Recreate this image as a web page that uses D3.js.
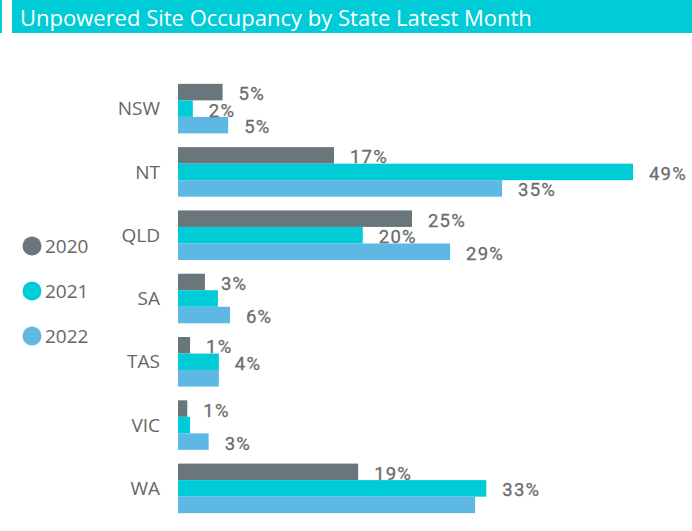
<!DOCTYPE html>
<html lang="en">
<head>
<meta charset="utf-8">
<style>
  body { margin: 0; background: #fff; }
  svg { display: block; }
</style>
</head>
<body>
<script src="https://d3js.org/d3.v7.min.js"></script>
<script>
    var states = ["NSW", "NT", "QLD", "SA", "TAS", "VIC", "WA"];
    var years = ["2020", "2021", "2022"];
    var occ2020 = [4.8, 16.8, 25.2, 2.9, 1.3, 1.0, 19.4];
    var occ2021 = [1.6, 49.0, 19.9, 4.3, 4.4, 1.3, 33.2];
    var occ2022 = [5.4, 34.9, 29.3, 5.6, 4.4, 3.3, 32.0];
    var colors = ["#69767c", "#00ccd7", "#5db8e3"];

    var width = 692,
        height = 531;

    var series = [occ2020, occ2021, occ2022];

    var svg = d3.select("body").append("svg")
        .attr("width", width)
        .attr("height", height);

    // title bar
    svg.append("rect")
        .attr("x", 0).attr("y", 0)
        .attr("width", 2).attr("height", 33)
        .attr("fill", "#00ccd7");
    svg.append("rect")
        .attr("x", 12).attr("y", 0)
        .attr("width", width - 12).attr("height", 33)
        .attr("fill", "#00ccd7");
    svg.append("text")
        .attr("x", 20).attr("y", 26)
        .attr("fill", "#fff")
        .style("font-family", "'Segoe UI', 'Open Sans', sans-serif")
        .style("font-size", "22px")
        .text("Unpowered Site Occupancy by State Latest Month");

    var x = d3.scaleLinear()
        .domain([0, 49])
        .range([178, 633]);

    var y = d3.scaleBand()
        .domain(states)
        .range([77, 520])
        .paddingInner(0.217)
        .paddingOuter(0.108);

    var ySub = d3.scaleBand()
        .domain(years)
        .range([0, y.bandwidth()]);

    // category labels
    svg.append("g")
        .selectAll("text")
        .data(states)
        .enter()
        .append("text")
        .attr("x", 160)
        .attr("y", function (d) { return y(d) + y.bandwidth() / 2; })
        .attr("dy", "0.35em")
        .attr("text-anchor", "end")
        .attr("fill", "#666")
        .style("font-family", "'Segoe UI', 'Open Sans', sans-serif")
        .style("font-size", "19px")
        .text(function (d) { return d; });

    var rows = [];
    states.forEach(function (s, i) {
        years.forEach(function (yr, j) {
            rows.push({ state: s, year: yr, idx: j, value: series[j][i] });
        });
    });

    svg.append("g")
        .selectAll("rect")
        .data(rows)
        .enter()
        .append("rect")
        .attr("x", x(0))
        .attr("y", function (d) { return y(d.state) + ySub(d.year); })
        .attr("width", function (d) { return x(d.value) - x(0); })
        .attr("height", ySub.bandwidth())
        .attr("fill", function (d) { return colors[d.idx]; });

    // data labels, hide the ones that collide (like Power BI does)
    var placed = [];
    var labels = svg.append("g");
    rows.forEach(function (d) {
        var lx = x(d.value) + 16;
        var cy = y(d.state) + ySub(d.year) + ySub.bandwidth() / 2 + 1.5;
        var t = labels.append("text")
            .attr("x", lx)
            .attr("y", cy)
            .attr("dy", "0.35em")
            .attr("fill", "#6c6c6c")
            .style("font-family", "Roboto, sans-serif")
            .style("font-size", "18.5px")
            .style("letter-spacing", "1.2px")
            .attr("stroke", "#6c6c6c")
            .attr("stroke-width", 0.3)
            .text(Math.round(d.value) + "%");
        var w = t.node().getComputedTextLength();
        var box = { x0: lx, x1: lx + w, y0: cy - 10, y1: cy + 10 };
        var hit = placed.some(function (b) {
            return box.x0 < b.x1 && box.x1 > b.x0 && box.y0 < b.y1 && box.y1 > b.y0;
        });
        if (hit) t.remove();
        else placed.push(box);
    });

    // legend
    var legend = svg.append("g")
        .selectAll("g")
        .data(years)
        .enter()
        .append("g")
        .attr("transform", function (d, i) { return "translate(32," + (246 + i * 45) + ")"; });
    legend.append("circle")
        .attr("r", 9.5)
        .attr("fill", function (d, i) { return colors[i]; });
    legend.append("text")
        .attr("x", 13)
        .attr("dy", "0.35em")
        .attr("fill", "#666")
        .style("font-family", "'Segoe UI', 'Open Sans', sans-serif")
        .style("font-size", "19px")
        .text(function (d) { return d; });
</script>
</body>
</html>
